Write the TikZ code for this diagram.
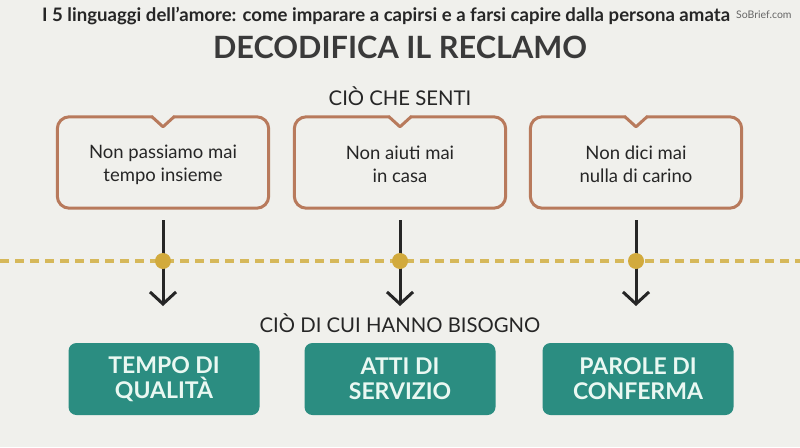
\documentclass[tikz,border=0pt]{standalone}
\usepackage{fontspec}
\setmainfont{Lato}
\usetikzlibrary{arrows.meta,calc}
\definecolor{bg}{HTML}{F0F0EC}
\definecolor{ink}{HTML}{262626}
\definecolor{titleink}{HTML}{3A3A3A}
\definecolor{brownline}{HTML}{B87A5C}
\definecolor{gold}{HTML}{D6B85A}
\definecolor{golddot}{HTML}{D2AA3C}
\definecolor{teal}{HTML}{2B8D81}
\definecolor{tealtext}{HTML}{EAF8F2}
\begin{document}
\begin{tikzpicture}[x=1pt,y=-1pt,
  headtext/.style={font=\fontsize{20.3}{22}\selectfont,text=ink,inner sep=0pt},
  saytext/.style={font=\fontsize{18.5}{23}\selectfont,text=ink,align=center,inner sep=0pt},
  saybox/.style={minimum width=211pt,minimum height=91pt,inner sep=0pt},
  speech/.style={draw=brownline,line width=3pt,fill=bg,rounded corners=12pt},
  notch/.style={draw=brownline,line width=3pt,line join=round,line cap=round},
  needbox/.style={fill=teal,rounded corners=8pt,minimum width=191pt,minimum height=72pt,
     text=tealtext,font=\bfseries\fontsize{23}{25}\selectfont,align=center,inner sep=0pt},
  arr/.style={draw=ink,line width=3pt,-{Straight Barb[length=12pt,width=26pt]}},
  dashline/.style={draw=gold,line width=4pt,dash pattern=on 9pt off 6pt},
  dot/.style={circle,fill=golddot,minimum size=16pt,inner sep=0pt}]
\fill[bg] (0,0) rectangle (800,447);
\useasboundingbox (0,0) rectangle (800,447);

% titles
\node[inner sep=0pt,text=ink] (t1) at (386,16) {\bfseries\fontsize{18.6}{20}\selectfont I 5 linguaggi dell’amore: come imparare a capirsi e a farsi capire dalla persona amata};
\node[inner sep=0pt,text=black!60,anchor=west] (wm) at (736,15) {\fontsize{10.5}{12}\selectfont SoBrief.com};
\node[inner sep=0pt,text=titleink] (t2) at (400,47) {\bfseries\fontsize{30.7}{32}\selectfont DECODIFICA IL RECLAMO};
\node[headtext] (h1) at (400,96) {CIÒ CHE SENTI};
\node[headtext] (h2) at (400,323) {CIÒ DI CUI HANNO BISOGNO};

% dashed line
\coordinate (dl) at (0,261);
\coordinate (dr) at (800,261);
\draw[dashline] (dl) -- (dr);

% speech boxes
\foreach \i/\x/\t in {1/163/{Non passiamo mai\\tempo insieme},2/400/{Non aiuti mai\\in casa},3/636/{Non dici mai\\nulla di carino}}{
  \node[saybox] (b\i) at (\x,162.5) {};
  \draw[speech] (b\i.south west) rectangle (b\i.north east);
  \fill[bg] ($(b\i.north)+(-10,-3)$) rectangle ($(b\i.north)+(10,3)$);
  \draw[notch] ($(b\i.north)+(-11,0)$) -- ($(b\i.north)+(0,10)$) -- ($(b\i.north)+(11,0)$);
  \node[saytext] (s\i) at ($(b\i.center)+(0,2)$) {\t};
  \coordinate (as\i) at ($(b\i.south)+(0,12)$);
  \coordinate (ae\i) at (\x,306);
  \draw[arr] (as\i) -- (ae\i);
  \node[dot] (d\i) at (\x,261) {};
}

% need boxes
\node[needbox] (n1) at (164,379) {TEMPO DI\\QUALITÀ};
\node[needbox] (n2) at (400,379) {ATTI DI\\SERVIZIO};
\node[needbox] (n3) at (638,379) {PAROLE DI\\CONFERMA};
\end{tikzpicture}
\end{document}
